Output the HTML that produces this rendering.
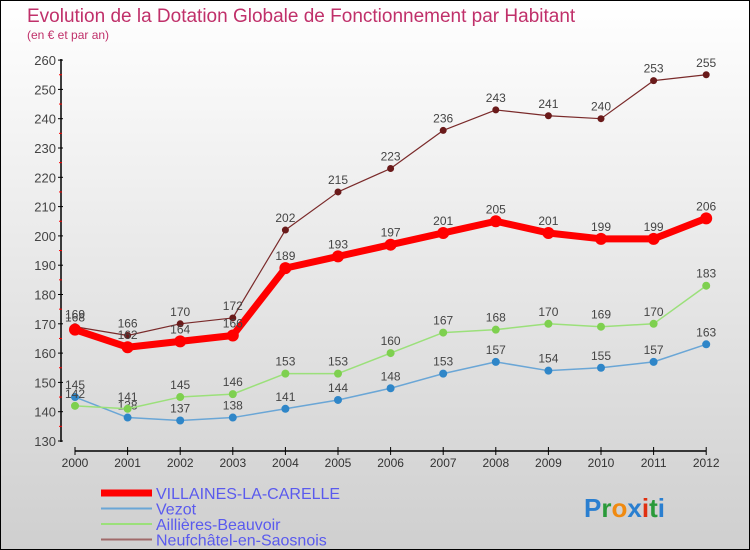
<!DOCTYPE html>
<html><head><meta charset="utf-8"><style>
body{margin:0;}
#c{width:748px;height:548px;border:1px solid #000;background:linear-gradient(#ffffff,#cfcfcf);position:relative;overflow:hidden;font-family:"Liberation Sans",sans-serif;}
</style></head><body>
<div id="c">
<svg id="s" width="748" height="548" xmlns="http://www.w3.org/2000/svg">
<text x="26" y="21" font-size="19" fill="#c0306a">Evolution de la Dotation Globale de Fonctionnement par Habitant</text>
<text x="26" y="38" font-size="12" fill="#c0306a">(en € et par an)</text>
</svg>
</div>
<script>
const years=[2000,2001,2002,2003,2004,2005,2006,2007,2008,2009,2010,2011,2012];
const yTicks=[130,140,150,160,170,180,190,200,210,220,230,240,250,260];
const villaines=[168,162,164,166,189,193,197,201,205,201,199,199,206];
const vezot=[145,138,137,138,141,144,148,153,157,154,155,157,163];
const aillieres=[142,141,145,146,153,153,160,167,168,170,169,170,183];
const neufchatel=[169,166,170,172,202,215,223,236,243,241,240,253,255];
const NS="http://www.w3.org/2000/svg";
const svg=document.getElementById('s');
const X=i=>74+i*52.6;
const Y=v=>440-(v-130)*2.93;
function el(t,a,p){const e=document.createElementNS(NS,t);for(const k in a)e.setAttribute(k,a[k]);(p||svg).appendChild(e);return e;}
const ax=el('g',{});


el('line',{x1:60,y1:58,x2:60,y2:441,stroke:'#000','stroke-width':1.5},ax);
yTicks.forEach(v=>{
  el('line',{x1:57,y1:Y(v),x2:62,y2:Y(v),stroke:'#000'},ax);
  if(v<260)el('line',{x1:58,y1:Y(v+5),x2:61,y2:Y(v+5),stroke:'#f00'},ax);
  const t=el('text',{x:55,y:Y(v)+5,'text-anchor':'end','font-size':13,fill:'#444'},ax);
  
  
  t.textContent=v;
});
el('line',{x1:74,y1:450,x2:X(12),y2:450,stroke:'#000','stroke-width':1.5},ax);
years.forEach((y,i)=>{
  el('line',{x1:X(i),y1:446,x2:X(i),y2:454,stroke:'#000'},ax);
  const t=el('text',{x:X(i),y:466,'text-anchor':'middle','font-size':12,fill:'#333'},ax);
  
  
  t.textContent=y;
});
function series(data,color,dot,w,r,name){
  const g=el('g',{});
  
  
  el('polyline',{points:data.map((v,i)=>X(i)+','+Y(v)).join(' '),fill:'none',stroke:color,'stroke-width':w,'stroke-linejoin':'round'},g);
  data.forEach((v,i)=>{
    const c=el('circle',{cx:X(i),cy:Y(v),r:r,fill:dot},g);
    
    
    const t=el('text',{x:X(i),y:Y(v)-8,'text-anchor':'middle','font-size':12,fill:'#444'},g);
    
    
    t.textContent=v;
  });
}
series(vezot,'#6aa6d6','#2f86c8',1.5,4,'vezot-series');
series(aillieres,'#9be07a','#7ed04f',1.5,4,'aillieres-series');
series(neufchatel,'#7a2a2a','#6a1a1a',1.2,3.5,'neufchatel-series');
series(villaines,'#f00','#f00',7,6,'villaines-series');
const leg=[['VILLAINES-LA-CARELLE','#f00',7],['Vezot','#6aa6d6',2],['Aillières-Beauvoir','#9be07a',2],['Neufchâtel-en-Saosnois','#a06a6a',2]];
leg.forEach((l,i)=>{
  const y=492+i*15.5;
  const g=el('g',{});
  
  
  el('line',{x1:100,y1:y,x2:151,y2:y,stroke:l[1],'stroke-width':l[2]},g);
  const t=el('text',{x:155,y:y+6,'font-size':16,fill:'#5a5aee'},g);
  t.textContent=l[0];
});
const lg=el('text',{x:583,y:516,'font-size':26,'font-weight':'bold'});


[['P','#2a7fd0'],['r','#2a9a3a'],['o','#f08a10'],['x','#2a7fd0'],['i','#e03010'],['t','#2a9a3a'],['i','#2a7fd0']].forEach(p=>{const s=el('tspan',{fill:p[1]},lg);s.textContent=p[0];});
</script>
</body></html>
